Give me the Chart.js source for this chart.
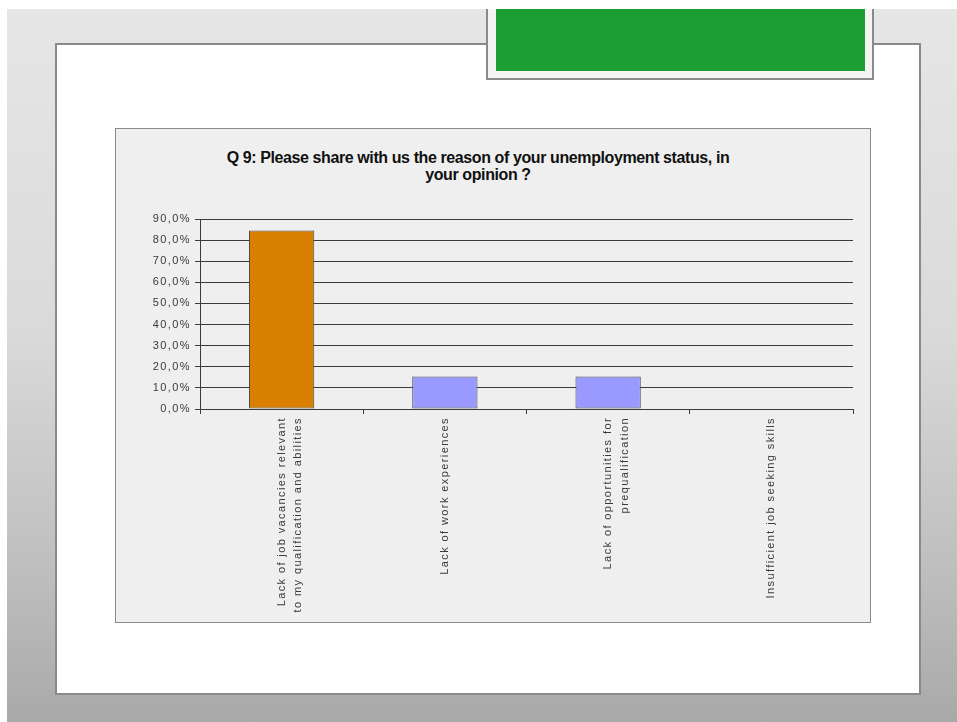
<!DOCTYPE html>
<html>
<head>
<meta charset="utf-8">
<title>Q 9</title>
<script src="https://cdn.jsdelivr.net/npm/chart.js@4/dist/chart.umd.min.js"></script>
<style>
  html, body { margin: 0; padding: 0; }
  body { width: 957px; height: 722px; position: relative; overflow: hidden; background: #fff; font-family: "Liberation Sans", Arial, sans-serif; }
  .backdrop { position: absolute; left: 7px; top: 9px; right: 0; bottom: 0;
    background: linear-gradient(180deg, #e6e6e6 0%, #dadada 45%, #bdbdbd 80%, #a9a9a9 100%); }
  .slide { position: absolute; left: 55px; top: 43px; width: 862px; height: 648px; background: #fff; border: 2px solid #8a8a8a; }
  .banner { position: absolute; left: 486px; top: 9px; width: 384px; height: 69px; background: #f4f4f4; border: 2px solid #8a8a8a; border-top: none; }
  .banner div { position: absolute; left: 8px; top: 0; width: 369px; height: 62px; background: #1c9e33; }
  .panel { position: absolute; left: 115px; top: 128px; width: 754px; height: 493px; background: #efefef; border: 1px solid #8a8a8a; }
  .panel h1 { position: absolute; left: 0; top: 20px; width: 724px; margin: 0; text-align: center;
    font: bold 16px/17px "Liberation Sans", Arial, sans-serif; letter-spacing: -0.4px; color: #111; }
  .panel canvas { position: absolute; left: 0; top: 0; }
</style>
</head>
<body>
<div class="backdrop"></div>
<div class="slide"></div>
<div class="banner"><div></div></div>
<div class="panel">
  <h1>Q 9: Please share with us the reason of your unemployment status, in<br>your opinion ?</h1>
  <canvas id="q9" width="754" height="493"></canvas>
</div>
<script>
const categories = [
  ['Lack of job vacancies relevant', 'to my qualification and abilities'],
  'Lack of work experiences',
  ['Lack of opportunities for', 'prequalification'],
  'Insufficient job seeking skills'
];
const shares = [84.6, 15.4, 15.4, 0];
const barColors = ['#d98000', '#9999ff', '#9999ff', '#9999ff'];
const yTicks = [0, 10, 20, 30, 40, 50, 60, 70, 80, 90];

const ink = '#3a3a3a';
const tickFont = { family: '"Liberation Sans", Arial, sans-serif', size: 11, lineHeight: 1.5 };

// wide, old-style spacing on the axis text
const spacedText = {
  id: 'spacedText',
  beforeDraw(chart) { chart.ctx.letterSpacing = '1.4px'; }
};

new Chart(document.getElementById('q9'), {
  type: 'bar',
  data: {
    labels: categories,
    datasets: [{
      data: shares,
      backgroundColor: barColors,
      borderColor: '#4a4a4a',
      borderWidth: 1,
      borderSkipped: false,
      categoryPercentage: 1,
      barPercentage: 0.4
    }]
  },
  options: {
    responsive: false,
    animation: false,
    layout: { padding: { left: 0, right: 17, top: 90, bottom: 0 } },
    plugins: { legend: { display: false }, tooltip: { enabled: false } },
    scales: {
      x: {
        afterFit(scale) { scale.height = 213; },
        grid: { offset: true, drawOnChartArea: false, color: ink, tickLength: 5 },
        border: { color: ink },
        ticks: { color: ink, font: tickFont, minRotation: 90, maxRotation: 90, padding: 3, autoSkip: false }
      },
      y: {
        min: 0,
        max: 90,
        afterFit(scale) { scale.width = 84; },
        afterBuildTicks(scale) { scale.ticks = yTicks.map(v => ({ value: v })); },
        grid: { color: ink, tickLength: 5 },
        border: { color: ink },
        ticks: {
          color: ink,
          font: { family: '"Liberation Sans", Arial, sans-serif', size: 11 },
          padding: 4,
          callback: v => v.toFixed(1).replace('.', ',') + '%'
        }
      }
    }
  },
  plugins: [spacedText]
});
</script>
</body>
</html>
